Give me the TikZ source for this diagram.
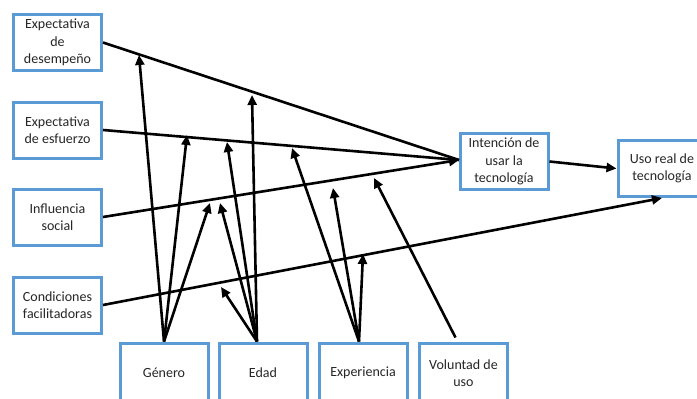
\documentclass[tikz,border=0pt]{standalone}
\usepackage{fontspec}
\setmainfont{Carlito}
\usetikzlibrary{arrows.meta}
\definecolor{boxblue}{HTML}{5B9BD5}
\definecolor{txt}{HTML}{262626}
\tikzset{
  box/.style={draw=boxblue, line width=3pt, fill=white, minimum width=88pt, minimum height=56pt,
    inner sep=0pt, align=center, text=txt, font=\fontsize{14}{17.3}\selectfont},
  conn/.style={line width=2.6pt, black},
  arr/.style={conn, -{Triangle[length=10pt,width=9pt]}}
}
\begin{document}
\begin{tikzpicture}[x=1pt,y=-1pt]
\useasboundingbox (0,0) rectangle (697,399);
\clip (0,0) rectangle (697,399);
\fill[white] (0,0) rectangle (697,399);
% left boxes
\node[box] (des) at (57.5,42.5) {Expectativa\\de\\desempeño};
\node[box] (esf) at (57.5,130) {Expectativa\\de esfuerzo};
\node[box] (inf) at (57.5,217) {Influencia\\social};
\node[box] (con) at (57.5,305) {Condiciones\\facilitadoras};
% right boxes
\node[box] (int) at (504,161.5) {Intención de\\usar la\\tecnología};
\node[box] (uso) at (662,168.5) {Uso real de\\tecnología};
% bottom boxes
\node[box, minimum height=60pt] (gen) at (164,373) {Género};
\node[box, minimum height=60pt] (eda) at (263,373) {Edad};
\node[box, minimum height=60pt] (exp) at (363,373) {Experiencia};
\node[box, minimum height=60pt] (vol) at (463.5,373) {Voluntad de\\uso};
% convergence points
\coordinate (ci) at (459,160);
\coordinate (cu) at (662,198);
% main paths
\draw[conn] (des.east) -- (ci);
\draw[conn] (esf.east) -- (ci);
\draw[arr] (inf.east) -- (ci);
\draw[arr] (con.east) -- (cu);
\draw[arr] (int.east) -- (uso.west);
% moderator targets
\coordinate (g1) at (139,55);
\coordinate (g2) at (187,135);
\coordinate (g3) at (210,203);
\coordinate (e1) at (252,95);
\coordinate (e2) at (227,142);
\coordinate (e3) at (220,203);
\coordinate (e4) at (221,287);
\coordinate (x1) at (292,148);
\coordinate (x2) at (333,188);
\coordinate (x3) at (363,254);
\coordinate (v1) at (374,178);
% moderator arrows
\draw[arr] (gen.north) -- (g1);
\draw[arr] (gen.north) -- (g2);
\draw[arr] (gen.north) -- (g3);
\draw[arr] ([xshift=-6pt]eda.north) -- (e1);
\draw[arr] ([xshift=-6pt]eda.north) -- (e2);
\draw[arr] ([xshift=-6pt]eda.north) -- (e3);
\draw[arr] ([xshift=-6pt]eda.north) -- (e4);
\draw[arr] ([xshift=-4pt]exp.north) -- (x1);
\draw[arr] ([xshift=-4pt]exp.north) -- (x2);
\draw[arr] ([xshift=-4pt]exp.north) -- (x3);
\draw[arr] ([xshift=-8pt,yshift=4pt]vol.north) -- (v1);
\end{tikzpicture}
\end{document}
